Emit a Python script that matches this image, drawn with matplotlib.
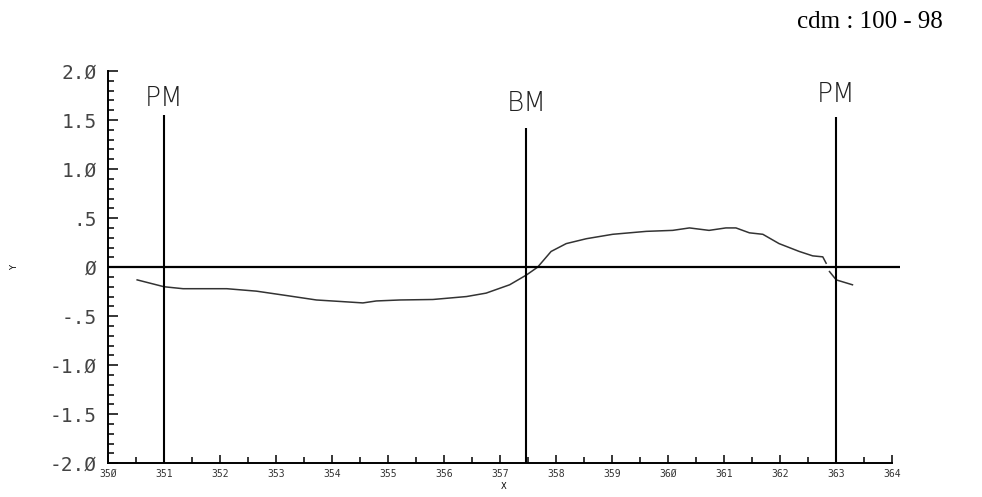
import matplotlib.pyplot as plt
from matplotlib.ticker import MultipleLocator

# profile
x_main = [350.52, 351.0, 351.34, 352.12, 352.65, 353.19, 353.72, 354.14, 354.55,
          354.79, 355.21, 355.80, 356.40, 356.75, 357.17, 357.47, 357.67, 357.91,
          358.18, 358.54, 359.01, 359.61, 360.08, 360.38, 360.73, 361.03, 361.21,
          361.45, 361.69, 361.98, 362.34, 362.58, 362.76, 362.82]
y_main = [-0.13, -0.20, -0.22, -0.22, -0.245, -0.29, -0.335, -0.35, -0.365,
          -0.345, -0.335, -0.33, -0.30, -0.265, -0.18, -0.08, 0.0, 0.16,
          0.24, 0.29, 0.335, 0.365, 0.375, 0.40, 0.375, 0.40, 0.40,
          0.35, 0.335, 0.24, 0.16, 0.115, 0.105, 0.04]
x_tail = [362.88, 363.0, 363.29]
y_tail = [-0.045, -0.13, -0.18]

marker_x = [351.0, 357.47, 363.0]
marker_top = [1.55, 1.42, 1.53]
marker_names = ["PM", "BM", "PM"]
label_y = [1.72, 1.67, 1.76]

ytick_vals = [2.0, 1.5, 1.0, 0.5, 0, -0.5, -1.0, -1.5, -2.0]
ytick_text = ["2.Ø", "1.5", "1.Ø", ".5", "Ø", "-.5", "-1.Ø", "-1.5", "-2.Ø"]
xtick_vals = list(range(350, 365))
xtick_text = ["35Ø", "351", "352", "353", "354", "355", "356", "357",
              "358", "359", "36Ø", "361", "362", "363", "364"]

fig = plt.figure(figsize=(9.82, 4.97), dpi=100)
ax = fig.add_axes([0.110, 0.068, 0.806, 0.789])

ax.plot(x_main, y_main, color="#333333", linewidth=1.1)
ax.plot(x_tail, y_tail, color="#333333", linewidth=1.1)
ax.axhline(0, color="black", linewidth=1.6)
ax.vlines(marker_x, -2.0, marker_top, color="black", linewidth=1.5)

for mx, name, ly in zip(marker_x, marker_names, label_y):
    ax.text(mx, ly, name, ha="center", va="center", fontsize=19,
            family="DejaVu Sans", fontweight="light", color="#222222")

ax.set_xlim(350, 364.13)
ax.set_ylim(-2.0, 2.0)
for side in ["top", "right"]:
    ax.spines[side].set_visible(False)
ax.spines["bottom"].set_bounds(350, 364)
ax.spines["left"].set_linewidth(1.4)
ax.spines["bottom"].set_linewidth(1.4)

ax.set_yticks(ytick_vals)
ax.set_yticklabels(ytick_text, family="DejaVu Sans Mono", fontsize=14,
                   color="#444444")
ax.yaxis.set_minor_locator(MultipleLocator(0.1))
ax.set_xticks(xtick_vals)
ax.set_xticklabels(xtick_text, family="DejaVu Sans Mono", fontsize=7,
                   color="#333333")
ax.xaxis.set_minor_locator(MultipleLocator(0.5))
ax.tick_params(axis="both", which="both", direction="in", width=1.1)
ax.tick_params(axis="y", which="major", length=7, pad=8)
ax.tick_params(axis="y", which="minor", length=4)
ax.tick_params(axis="x", which="major", length=6, pad=4)
ax.tick_params(axis="x", which="minor", length=4)

ax.set_xlabel("X", fontsize=6, labelpad=2)
ax.set_ylabel("Y", fontsize=6, rotation=90, labelpad=22)

fig.text(0.812, 0.955, "cdm : 100 - 98", family="Liberation Serif",
         fontsize=18, ha="left", va="center")

fig.savefig("out.png", dpi=100)
